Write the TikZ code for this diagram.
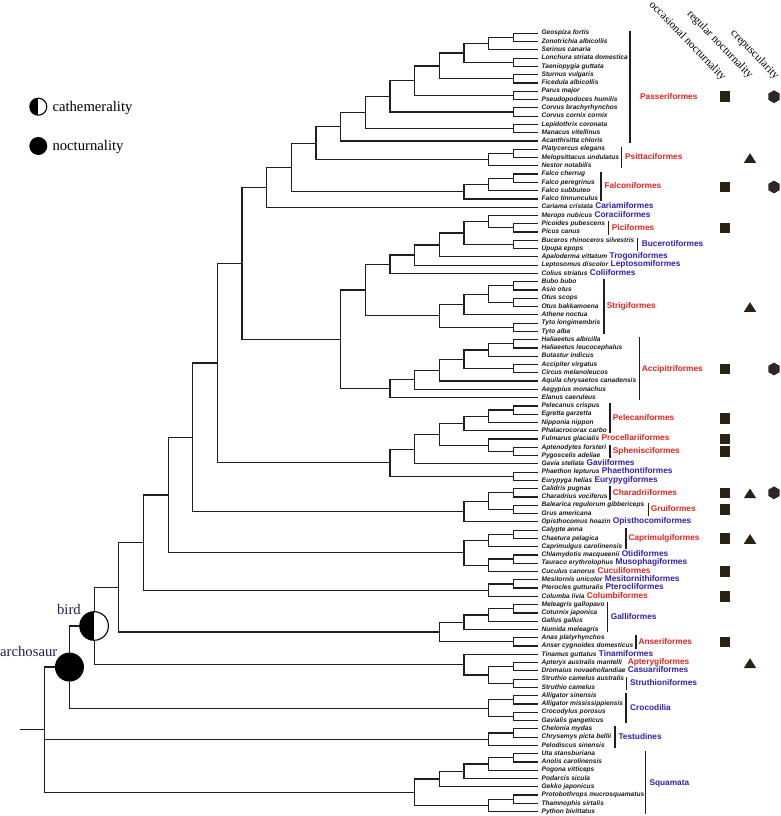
\documentclass[tikz,border=0pt]{standalone}
\usepackage{fontspec}
\setmainfont{Liberation Serif}
\newfontfamily\lsans{Liberation Sans}
\usetikzlibrary{calc}
\definecolor{ordred}{RGB}{226,36,30}
\definecolor{ordblue}{RGB}{50,30,175}
\definecolor{markc}{RGB}{42,34,18}
\definecolor{hexc}{RGB}{48,38,38}
\definecolor{navyc}{RGB}{30,30,85}
\definecolor{brc}{RGB}{30,30,30}
\tikzset{
  br/.style={draw=brc, line width=1.2pt},
  spn/.style={anchor=west, inner sep=0pt, xshift=3.4pt, font=\lsans\bfseries\itshape\fontsize{6.6}{7}\selectfont, text=black!90, text height=4.8pt, text depth=1.4pt},
  olab/.style={anchor=west, inner sep=0pt, font=\lsans\bfseries\fontsize{8.3}{9}\selectfont, text height=6pt, text depth=1.2pt},
  olabs/.style={olab, anchor=base west},
  ored/.style={text=ordred},
  oblue/.style={text=ordblue},
  obar/.style={draw=brc, line width=1.2pt},
  msq/.style={rectangle, fill=markc, minimum size=10.5pt, inner sep=0pt},
  hdr/.style={anchor=east, rotate=-46, inner sep=0pt, font=\fontsize{11.3}{12}\selectfont},
  leg/.style={anchor=base west, inner sep=0pt, font=\fontsize{14.7}{16}\selectfont},
  clab/.style={anchor=base east, inner sep=0pt, text=navyc, font=\fontsize{14.7}{16}\selectfont},
  halfc/.style={circle, draw=black, line width=1.1pt, fill=white, inner sep=0pt, minimum size=#1,
    path picture={\fill[black] (path picture bounding box.north) rectangle (path picture bounding box.south west);}},
  fullc/.style={circle, fill=black, inner sep=0pt, minimum size=#1},
}
\newcommand\tipsp[2]{\coordinate (t#1) at (538pt,{-(33.3+(#1-1)*8.28)*1pt}); \node[spn] (s#1) at (t#1) {#2};}
\newcommand\inode[4]{\path let \p1=(#3), \p2=(#4) in coordinate (#1) at ({(44.8+24.66*#2)*1pt},{(\y1+\y2)/2}); \draw[br] (#3) -| (#1) |- (#4);}
\newcommand\msqr[2]{\node[msq] (#1) at (725pt,{-#2pt}) {};}
\newcommand\mtri[1]{\fill[markc] (750pt,{-(#1-4.3)*1pt}) -- (756.2pt,{-(#1+5.4)*1pt}) -- (743.8pt,{-(#1+5.4)*1pt}) -- cycle;}
\newcommand\mhex[1]{\fill[hexc] (774pt,{-#1pt}) +(90:6.4pt) -- +(150:6.4pt) -- +(210:6.4pt) -- +(270:6.4pt) -- +(330:6.4pt) -- +(30:6.4pt) -- cycle;}
\newcommand\obr[3]{\draw[obar] (#1pt,{-#2pt}) -- (#1pt,{-#3pt});}
\begin{document}
\begin{tikzpicture}[x=1pt,y=1pt]
\useasboundingbox (0,0) rectangle (780pt,-816pt);
% tips
\tipsp{1}{Geospiza fortis}
\tipsp{2}{Zonotrichia albicollis}
\tipsp{3}{Serinus canaria}
\tipsp{4}{Lonchura striata domestica}
\tipsp{5}{Taeniopygia guttata}
\tipsp{6}{Sturnus vulgaris}
\tipsp{7}{Ficedula albicollis}
\tipsp{8}{Parus major}
\tipsp{9}{Pseudopodoces humilis}
\tipsp{10}{Corvus brachyrhynchos}
\tipsp{11}{Corvus cornix cornix}
\tipsp{12}{Lepidothrix coronata}
\tipsp{13}{Manacus vitellinus}
\tipsp{14}{Acanthisitta chloris}
\tipsp{15}{Platycercus elegans}
\tipsp{16}{Melopsittacus undulatus}
\tipsp{17}{Nestor notabilis}
\tipsp{18}{Falco cherrug}
\tipsp{19}{Falco peregrinus}
\tipsp{20}{Falco subbuteo}
\tipsp{21}{Falco tinnunculus}
\tipsp{22}{Cariama cristata}
\tipsp{23}{Merops nubicus}
\tipsp{24}{Picoides pubescens}
\tipsp{25}{Picus canus}
\tipsp{26}{Buceros rhinoceros silvestris}
\tipsp{27}{Upupa epops}
\tipsp{28}{Apaloderma vittatum}
\tipsp{29}{Leptosomus discolor}
\tipsp{30}{Colius striatus}
\tipsp{31}{Bubo bubo}
\tipsp{32}{Asio otus}
\tipsp{33}{Otus scops}
\tipsp{34}{Otus bakkamoena}
\tipsp{35}{Athene noctua}
\tipsp{36}{Tyto longimembris}
\tipsp{37}{Tyto alba}
\tipsp{38}{Haliaeetus albicilla}
\tipsp{39}{Haliaeetus leucocephalus}
\tipsp{40}{Butastur indicus}
\tipsp{41}{Accipiter virgatus}
\tipsp{42}{Circus melanoleucos}
\tipsp{43}{Aquila chrysaetos canadensis}
\tipsp{44}{Aegypius monachus}
\tipsp{45}{Elanus caeruleus}
\tipsp{46}{Pelecanus crispus}
\tipsp{47}{Egretta garzetta}
\tipsp{48}{Nipponia nippon}
\tipsp{49}{Phalacrocorax carbo}
\tipsp{50}{Fulmarus glacialis}
\tipsp{51}{Aptenodytes forsteri}
\tipsp{52}{Pygoscelis adeliae}
\tipsp{53}{Gavia stellata}
\tipsp{54}{Phaethon lepturus}
\tipsp{55}{Eurypyga helias}
\tipsp{56}{Calidris pugnax}
\tipsp{57}{Charadrius vociferus}
\tipsp{58}{Balearica regulorum gibbericeps}
\tipsp{59}{Grus americana}
\tipsp{60}{Opisthocomus hoazin}
\tipsp{61}{Calypte anna}
\tipsp{62}{Chaetura pelagica}
\tipsp{63}{Caprimulgus carolinensis}
\tipsp{64}{Chlamydotis macqueenii}
\tipsp{65}{Tauraco erythrolophus}
\tipsp{66}{Cuculus canorus}
\tipsp{67}{Mesitornis unicolor}
\tipsp{68}{Pterocles gutturalis}
\tipsp{69}{Columba livia}
\tipsp{70}{Meleagris gallopavo}
\tipsp{71}{Coturnix japonica}
\tipsp{72}{Gallus gallus}
\tipsp{73}{Numida meleagris}
\tipsp{74}{Anas platyrhynchos}
\tipsp{75}{Anser cygnoides domesticus}
\tipsp{76}{Tinamus guttatus}
\tipsp{77}{Apteryx australis mantelli}
\tipsp{78}{Dromaius novaehollandiae}
\tipsp{79}{Struthio camelus australis}
\tipsp{80}{Struthio camelus}
\tipsp{81}{Alligator sinensis}
\tipsp{82}{Alligator mississippiensis}
\tipsp{83}{Crocodylus porosus}
\tipsp{84}{Gavialis gangeticus}
\tipsp{85}{Chelonia mydas}
\tipsp{86}{Chrysemys picta bellii}
\tipsp{87}{Pelodiscus sinensis}
\tipsp{88}{Uta stansburiana}
\tipsp{89}{Anolis carolinensis}
\tipsp{90}{Pogona vitticeps}
\tipsp{91}{Podarcis sicula}
\tipsp{92}{Gekko japonicus}
\tipsp{93}{Protobothrops mucrosquamatus}
\tipsp{94}{Thamnophis sirtalis}
\tipsp{95}{Python bivittatus}
% Passeriformes
\inode{p1}{19}{t1}{t2}
\inode{p2}{18}{p1}{t3}
\inode{p3}{19}{t4}{t5}
\inode{p4}{17}{p2}{p3}
\inode{p5}{19}{t6}{t7}
\inode{p6}{16}{p4}{p5}
\inode{p7}{19}{t8}{t9}
\inode{p8}{15}{p6}{p7}
\inode{p9}{19}{t10}{t11}
\inode{p10}{14}{p8}{p9}
\inode{p11}{19}{t12}{t13}
\inode{p12}{13}{p10}{p11}
\inode{pass}{12}{p12}{t14}
\inode{ps1}{19}{t15}{t16}
\inode{psit}{18}{ps1}{t17}
\inode{n11}{11}{pass}{psit}
\inode{f1}{19}{t18}{t19}
\inode{f2}{18}{f1}{t20}
\inode{falc}{17}{f2}{t21}
\inode{n10}{10}{n11}{falc}
\inode{n9}{9}{n10}{t22}
% Coraciimorphae
\inode{c1}{19}{t24}{t25}
\inode{c2}{18}{t23}{c1}
\inode{c3}{19}{t26}{t27}
\inode{c4}{17}{c2}{c3}
\inode{c5}{16}{c4}{t28}
\inode{c6}{15}{c5}{t29}
\inode{c7}{14}{c6}{t30}
% Strigiformes
\inode{s1n}{19}{t31}{t32}
\inode{s2n}{19}{t33}{t34}
\inode{s3n}{18}{s1n}{s2n}
\inode{s4n}{17}{s3n}{t35}
\inode{s5n}{19}{t36}{t37}
\inode{strig}{16}{s4n}{s5n}
\inode{n13}{13}{c7}{strig}
% Accipitriformes
\inode{a1}{19}{t38}{t39}
\inode{a2}{18}{a1}{t40}
\inode{a3}{19}{t41}{t42}
\inode{a4}{17}{a2}{a3}
\inode{a5}{16}{a4}{t43}
\inode{a6}{15}{a5}{t44}
\inode{accip}{14}{a6}{t45}
\inode{n12}{12}{n13}{accip}
\inode{n8}{8}{n9}{n12}
% Aequornithes etc
\inode{e1}{19}{t46}{t47}
\inode{e2}{18}{e1}{t48}
\inode{e3}{17}{e2}{t49}
\inode{e4}{19}{t51}{t52}
\inode{e5}{18}{t50}{e4}
\inode{e6}{16}{e3}{e5}
\inode{e7}{15}{e6}{t53}
\inode{e8}{19}{t54}{t55}
\inode{e9}{14}{e7}{e8}
\inode{n7}{7}{n8}{e9}
\inode{g1}{19}{t56}{t57}
\inode{g2}{19}{t58}{t59}
\inode{g3}{18}{g1}{g2}
\inode{g4}{17}{g3}{t60}
\inode{n6}{6}{n7}{g4}
\inode{k1}{19}{t61}{t62}
\inode{k2}{18}{k1}{t63}
\inode{k3}{19}{t64}{t65}
\inode{k4}{18}{k3}{t66}
\inode{k5}{17}{k2}{k4}
\inode{n5}{5}{n6}{k5}
\inode{m1}{19}{t67}{t68}
\inode{m2}{18}{m1}{t69}
\inode{n4}{4}{n5}{m2}
% Galloanserae
\inode{ga1}{19}{t70}{t71}
\inode{ga2}{18}{ga1}{t72}
\inode{ga3}{17}{ga2}{t73}
\inode{an1}{19}{t74}{t75}
\inode{ga4}{16}{ga3}{an1}
\inode{n3}{3}{n4}{ga4}
% Palaeognathae
\inode{pa1}{19}{t77}{t78}
\inode{pa2}{19}{t79}{t80}
\inode{pa3}{18}{pa1}{pa2}
\inode{pa4}{17}{t76}{pa3}
\inode{n2}{2}{n3}{pa4}
% Crocodilia
\inode{cr1}{19}{t81}{t82}
\inode{cr2}{19}{t83}{t84}
\inode{cr3}{18}{cr1}{cr2}
\inode{n1}{1}{n2}{cr3}
% Testudines
\inode{te1}{19}{t85}{t86}
\inode{te2}{18}{te1}{t87}
% Squamata
\inode{q1}{19}{t88}{t89}
\inode{q2}{18}{q1}{t90}
\inode{q3}{17}{q2}{t91}
\inode{q4}{16}{q3}{t92}
\inode{q5}{19}{t93}{t94}
\inode{q6}{18}{q5}{t95}
\inode{q7}{15}{q4}{q6}
% root (polytomy)
\inode{root}{0}{n1}{q7}
\draw[br] (root) |- (te2);
\coordinate (rootstub) at ($(root)+(-24.8pt,0)$);
\draw[br] (rootstub) -- (root);
% ancestral states
\node[fullc=29pt] (archc) at (n1) {};
\node[halfc=28.6pt] (birdc) at (n2) {};
\node[clab] (birdl) at (81pt,-614pt) {bird};
\node[clab] (archl) at (57.5pt,-656pt) {archosaur};
% legend
\node[halfc=17pt] (legc) at (38.3pt,-106.7pt) {};
\node[fullc=18pt] (legn) at (38.3pt,-146pt) {};
\node[leg] (legct) at (52.3pt,-111pt) {cathemerality};
\node[leg] (legnt) at (52.3pt,-150.5pt) {nocturnality};
% headers
\node[hdr] (h1) at (724pt,-79pt) {occasional nocturnality};
\node[hdr] (h2) at (751pt,-77pt) {regular nocturnality};
\node[hdr] (h3) at (777pt,-78pt) {crepuscularity};
% order bars
\obr{630}{30.8}{143.4}
\obr{621.7}{146.7}{168.3}
\obr{601}{171.6}{201.4}
\obr{608.3}{221.2}{234.5}
\obr{637.7}{237.8}{251.1}
\obr{604}{279.2}{333.9}
\obr{639.3}{337.2}{400.1}
\obr{610}{403.4}{433.2}
\obr{610}{444.8}{458.1}
\obr{610}{486.2}{499.5}
\obr{648.3}{502.8}{516}
\obr{626}{527.6}{549.2}
\obr{607.7}{602.1}{632}
\obr{636}{635.2}{648.5}
\obr{626.7}{676.6}{689.9}
\obr{626}{693.2}{723}
\obr{615}{726.3}{747.9}
\obr{645.7}{751.2}{814}
% order labels with bars
\node[olab,ored] (oPass) at (640pt,-96.7pt) {Passeriformes};
\node[olab,ored] (oPsit) at (625pt,-157.5pt) {Psittaciformes};
\node[olab,ored] (oFalc) at (604.3pt,-186.5pt) {Falconiformes};
\node[olab,ored] (oPici) at (611.7pt,-227.9pt) {Piciformes};
\node[olab,oblue] (oBuce) at (641.7pt,-244.4pt) {Bucerotiformes};
\node[olab,ored] (oStri) at (606.7pt,-306.5pt) {Strigiformes};
\node[olab,ored] (oAcci) at (641.7pt,-368.6pt) {Accipitriformes};
\node[olab,ored] (oPele) at (612.7pt,-418.3pt) {Pelecaniformes};
\node[olab,ored] (oSphe) at (612.7pt,-451.4pt) {Sphenisciformes};
\node[olab,ored] (oChar) at (612.7pt,-492.8pt) {Charadriiformes};
\node[olab,ored] (oGrui) at (650.7pt,-509.4pt) {Gruiformes};
\node[olab,ored] (oCapr) at (628.3pt,-538.4pt) {Caprimulgiformes};
\node[olab,oblue] (oGall) at (610.7pt,-617pt) {Galliformes};
\node[olab,ored] (oAnse) at (638.3pt,-641.9pt) {Anseriformes};
\node[olab,oblue] (oStru) at (630pt,-683.3pt) {Struthioniformes};
\node[olab,oblue] (oCroc) at (630pt,-708.1pt) {Crocodilia};
\node[olab,oblue] (oTest) at (618.3pt,-737.1pt) {Testudines};
\node[olab,oblue] (oSqua) at (649.3pt,-782.6pt) {Squamata};
% single-species order labels
\node[olabs,oblue] (oCari) at ([xshift=2pt]s22.base east) {Cariamiformes};
\node[olabs,oblue] (oCora) at ([xshift=2pt]s23.base east) {Coraciiformes};
\node[olabs,oblue] (oTrog) at ([xshift=2pt]s28.base east) {Trogoniformes};
\node[olabs,oblue] (oLept) at ([xshift=2pt]s29.base east) {Leptosomiformes};
\node[olabs,oblue] (oColi) at ([xshift=2pt]s30.base east) {Coliiformes};
\node[olabs,ored] (oProc) at ([xshift=2pt]s50.base east) {Procellariiformes};
\node[olabs,oblue] (oGavi) at ([xshift=2pt]s53.base east) {Gaviiformes};
\node[olabs,oblue] (oPhae) at ([xshift=2pt]s54.base east) {Phaethontiformes};
\node[olabs,oblue] (oEury) at ([xshift=2pt]s55.base east) {Eurypygiformes};
\node[olabs,oblue] (oOpis) at ([xshift=2pt]s60.base east) {Opisthocomiformes};
\node[olabs,oblue] (oOtid) at ([xshift=2pt]s64.base east) {Otidiformes};
\node[olabs,oblue] (oMuso) at ([xshift=2pt]s65.base east) {Musophagiformes};
\node[olabs,ored] (oCucu) at ([xshift=2pt]s66.base east) {Cuculiformes};
\node[olabs,oblue] (oMesi) at ([xshift=2pt]s67.base east) {Mesitornithiformes};
\node[olabs,oblue] (oPter) at ([xshift=2pt]s68.base east) {Pterocliformes};
\node[olabs,ored] (oColu) at ([xshift=2pt]s69.base east) {Columbiformes};
\node[olabs,oblue] (oTina) at ([xshift=2pt]s76.base east) {Tinamiformes};
\node[olabs,ored] (oApte) at (627.7pt,0 |- s77.base) {Apterygiformes};
\node[olabs,oblue] (oCasu) at (627.7pt,0 |- s78.base) {Casuariiformes};
% markers
\msqr{qPass}{96.7} \mhex{96.7}
\mtri{157.5}
\msqr{qFalc}{187} \mhex{187}
\msqr{qPici}{228}
\mtri{306.5}
\msqr{qAcci}{369} \mhex{369}
\msqr{qPele}{418.3}
\msqr{qProc}{439}
\msqr{qSphe}{451.4}
\msqr{qChar}{492.8} \mtri{492.8} \mhex{492.8}
\msqr{qGrui}{509.4}
\msqr{qCapr}{538.4} \mtri{538.4}
\msqr{qCucu}{571.5}
\msqr{qColu}{596.3}
\msqr{qAnse}{641.9}
\mtri{662.6}
\end{tikzpicture}
\end{document}
